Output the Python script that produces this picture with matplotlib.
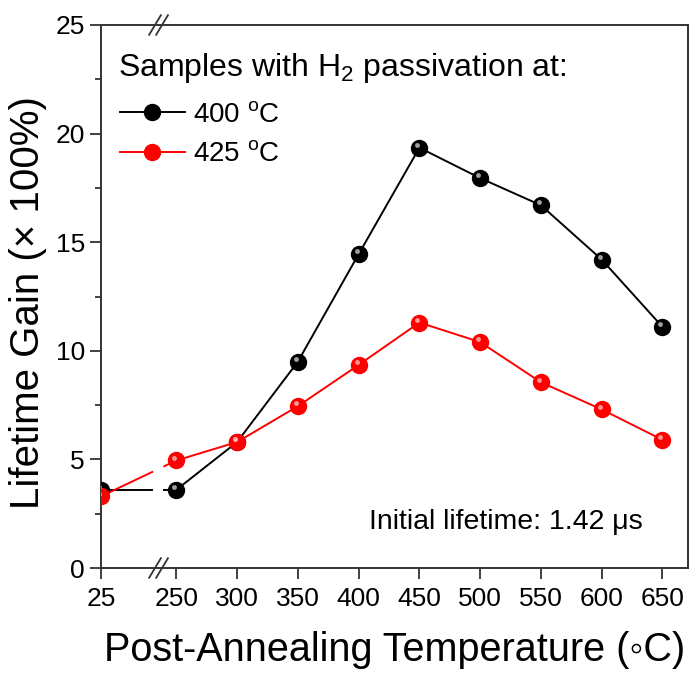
import numpy as np
import matplotlib
matplotlib.use("Agg")
import matplotlib.pyplot as plt
from matplotlib.transforms import offset_copy

plt.rcParams['font.family'] = ['Liberation Sans', 'DejaVu Sans']
plt.rcParams['mathtext.fontset'] = 'custom'
plt.rcParams['mathtext.rm'] = 'Liberation Sans'
plt.rcParams['mathtext.it'] = 'Liberation Sans:italic'

# data
temps = [25, 250, 300, 350, 400, 450, 500, 550, 600, 650]
gain_400 = [3.6, 3.6, 5.8, 9.5, 14.45, 19.35, 17.95, 16.7, 14.2, 11.1]
gain_425 = [3.3, 4.95, 5.8, 7.45, 9.35, 11.3, 10.4, 8.55, 7.3, 5.9]
tick_labels = ["25", "250", "300", "350", "400", "450", "500", "550", "600", "650"]

# broken x axis: 25 sits a fixed distance left of 250
def xpos(t):
    return t if t >= 250 else 250 - 62

xs = np.array([xpos(t) for t in temps], dtype=float)

fig = plt.figure(figsize=(6.96, 6.77), dpi=100)
ax = fig.add_axes([101 / 696, 1 - 568 / 677, 587 / 696, 543 / 677])

gap = (0.68, 0.84)  # fraction of the 25->250 segment left blank at the break


def draw_series(y, color, hl_color, label):
    y = np.array(y, dtype=float)
    # first segment split around the axis break
    for a, b in [(0, gap[0]), (gap[1], 1)]:
        xa = xs[0] + a * (xs[1] - xs[0])
        xb = xs[0] + b * (xs[1] - xs[0])
        ya = y[0] + a * (y[1] - y[0])
        yb = y[0] + b * (y[1] - y[0])
        ax.plot([xa, xb], [ya, yb], color=color, lw=1.4, zorder=2)
    ax.plot(xs[1:], y[1:], color=color, lw=1.4, zorder=2)
    ax.plot(xs, y, ls='none', marker='o', ms=11.5, mfc=color, mec=color,
            zorder=3)
    hl = offset_copy(ax.transData, fig=fig, x=-1.5, y=2.0, units='points')
    ax.plot(xs, y, ls='none', marker='o', ms=3.5, mfc=hl_color, mec='none',
            alpha=0.85, transform=hl, zorder=4)
    line, = ax.plot([], [], color=color, lw=1.4, marker='o', ms=11.5,
                    mfc=color, mec=color, label=label)
    return line


h1 = draw_series(gain_400, 'black', '#bbbbbb', '400 $^{\\mathrm{o}}$C')
h2 = draw_series(gain_425, 'red', '#ffb0b0', '425 $^{\\mathrm{o}}$C')

ax.set_xlim(xpos(25), 671)
ax.set_ylim(0, 25)
ax.set_xticks(xs)
ax.set_xticklabels(tick_labels)
ax.set_yticks([0, 5, 10, 15, 20, 25])
ax.set_yticks(np.arange(0, 25.1, 2.5), minor=True)
ax.tick_params(axis='both', which='major', direction='out', length=8, width=1.3,
               labelsize=19, colors='#333333', labelcolor='black')
ax.tick_params(axis='y', which='minor', direction='out', length=4, width=1.3,
               colors='#333333')
ax.tick_params(axis='x', pad=6)
for s in ax.spines.values():
    s.set_linewidth(1.4)
    s.set_color('#333333')

ax.set_xlabel('Post-Annealing Temperature (\u25e6C)', fontsize=28.5, labelpad=14)
ax.set_ylabel('Lifetime Gain (\u00d7 100%)', fontsize=29, labelpad=6)
ax.yaxis.label.set_y(0.488)

# break marks on top and bottom spines
for yb in (0, 1):
    for dx in (-0.012, 0.0):
        ax.plot([0.094 + dx, 0.114 + dx], [yb - 0.018, yb + 0.018],
                transform=ax.transAxes, color='#333333', lw=1.3, clip_on=False)

ax.text(0.029, 0.906, 'Samples with H$_2$ passivation at:', transform=ax.transAxes,
        ha='left', va='baseline', fontsize=23)
ax.legend(handles=[h1, h2], loc='upper left', bbox_to_anchor=(0.032, 0.859),
          frameon=False, fontsize=20, handlelength=2.34, handletextpad=0.29,
          labelspacing=0.5, borderaxespad=0, borderpad=0)

ax.text(0.923, 0.085, 'Initial lifetime: 1.42 \u03bcs', transform=ax.transAxes,
        ha='right', va='center', fontsize=20.5)

fig.savefig('out.png', dpi=100)
